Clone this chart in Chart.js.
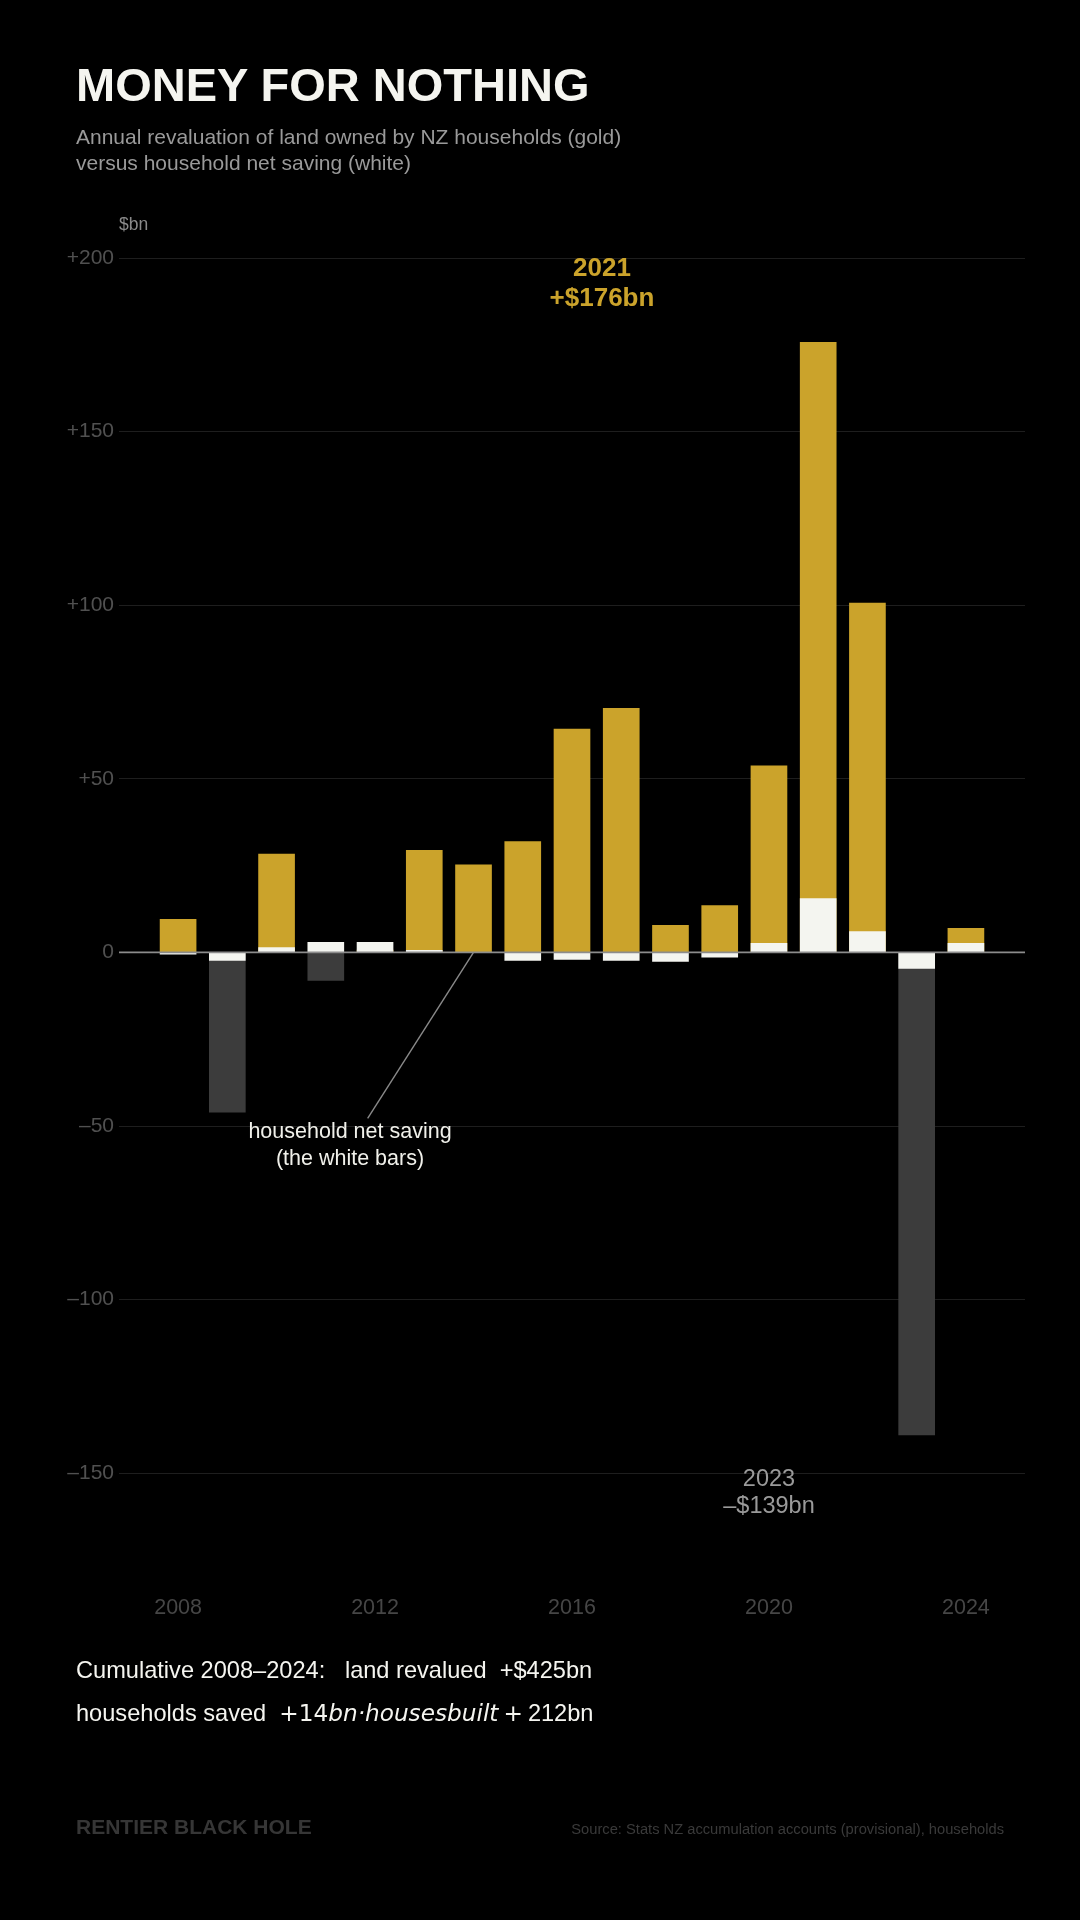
<!DOCTYPE html>
<html>
<head>
<meta charset="utf-8">
<script src="https://cdn.jsdelivr.net/npm/chart.js@4/dist/chart.umd.min.js"></script>
<style>
  html, body { margin: 0; padding: 0; background: #000; }
  #page { position: relative; width: 1080px; height: 1920px; background: #000; overflow: hidden;
          font-family: 'Liberation Sans', Arial, sans-serif; }
  #chart { position: absolute; left: 0; top: 0; }
  .txt { position: absolute; white-space: nowrap; }
  .title { left: 76px; top: 61px; font-size: 47px; line-height: 47px; font-weight: bold; color: #f5f5f0; }
  .subtitle { left: 76px; top: 124px; font-size: 21px; line-height: 26px; color: #9a9a9a; }
  .unit { left: 119px; top: 214px; font-size: 17.5px; line-height: 20px; color: #8a8a8a; }
  .note-peak { left: 502px; width: 200px; top: 252px; text-align: center; font-size: 26px; line-height: 30px;
               font-weight: bold; color: #cba32b; }
  .note-low { left: 669px; width: 200px; top: 1465px; text-align: center; font-size: 23.5px; line-height: 27px; color: #9a9a9a; }
  .note-saving { left: 200px; width: 300px; top: 1118px; text-align: center; font-size: 21.5px; line-height: 27px; color: #f0f0ea; }
  .cum { left: 76px; font-size: 23.6px; line-height: 26px; color: #f5f5f0; }
  .math { font-family: 'DejaVu Sans', sans-serif; font-size: 23.2px; }
  .math i { font-style: italic; }
  .math .op { margin: 0 5px 0 5px; }
  .brand { left: 76px; top: 1815px; font-size: 21px; line-height: 24px; font-weight: bold; color: #363636; }
  .source { right: 76px; top: 1819px; font-size: 14.7px; line-height: 20px; color: #3a3a3a; }
</style>
</head>
<body>
<div id="page">
  <canvas id="chart" width="1080" height="1920"></canvas>

  <div class="txt title">MONEY FOR NOTHING</div>
  <div class="txt subtitle">Annual revaluation of land owned by NZ households (gold)<br>versus household net saving (white)</div>
  <div class="txt unit">$bn</div>

  <div class="txt note-peak">2021<br>+$176bn</div>
  <div class="txt note-low">2023<br>–$139bn</div>
  <div class="txt note-saving">household net saving<br>(the white bars)</div>

  <div class="txt cum" style="top:1657px">Cumulative 2008–2024:&nbsp;&nbsp; land revalued&nbsp; +$425bn</div>
  <div class="txt cum" style="top:1700px">households saved&nbsp; <span class="math">+14<i>bn·housesbuilt</i><span class="op">+</span></span>212bn</div>

  <div class="txt brand">RENTIER BLACK HOLE</div>
  <div class="txt source">Source: Stats NZ accumulation accounts (provisional), households</div>
</div>

<script>
// annual values, $bn
const years = [2008, 2009, 2010, 2011, 2012, 2013, 2014, 2015, 2016, 2017, 2018, 2019, 2020, 2021, 2022, 2023, 2024];
const landRevaluation = [9.5, -46, 28.3, -8.1, 0.7, 29.4, 25.2, 31.9, 64.3, 70.3, 7.8, 13.5, 53.7, 175.7, 100.6, -139, 6.9];
const householdSaving = [-0.5, -2.3, 1.4, 2.9, 2.9, 0.6, 0, -2.3, -2.0, -2.3, -2.6, -1.4, 2.6, 15.5, 6.0, -4.6, 2.6];

const yTicks = [-150, -100, -50, 0, 50, 100, 150, 200];
const xTicks = [2008, 2012, 2016, 2020, 2024];

// leader line for the "household net saving" note (data coords)
const leaderFrom = { x: 2014, y: 0 };
const leaderTo = { x: 2011.85, y: -47.8 };

const GOLD = '#cba32b';
const WHITE = '#f4f5f0';
const DARK = '#3c3c3c';

Chart.defaults.font.family = "'Liberation Sans', Arial, sans-serif";

function fmtTick(v) {
    if (v > 0) return '+' + v;
    if (v < 0) return '–' + Math.abs(v);
    return '0';
}

const overlayPlugin = {
    id: 'overlay',
    afterDatasetsDraw(chart) {
        const { ctx, chartArea, scales } = chart;
        const x = scales.x, y = scales.y;
        const y0 = y.getPixelForValue(0);
        ctx.save();
        // zero line over the bars
        ctx.strokeStyle = '#8c8c8c';
        ctx.lineWidth = 1.6;
        ctx.beginPath();
        ctx.moveTo(chartArea.left, y0);
        ctx.lineTo(chartArea.right, y0);
        ctx.stroke();
        // leader line
        ctx.strokeStyle = '#8a8a8a';
        ctx.lineWidth = 1.4;
        ctx.beginPath();
        ctx.moveTo(x.getPixelForValue(leaderFrom.x), y.getPixelForValue(leaderFrom.y));
        ctx.lineTo(x.getPixelForValue(leaderTo.x), y.getPixelForValue(leaderTo.y));
        ctx.stroke();
        ctx.restore();
    }
};

new Chart(document.getElementById('chart').getContext('2d'), {
    type: 'bar',
    data: {
        datasets: [
            {
                label: 'Household net saving',
                data: years.map((yr, i) => ({ x: yr, y: householdSaving[i] })),
                backgroundColor: WHITE,
                grouped: false,
                barThickness: 36,
                order: 0
            },
            {
                label: 'Land revaluation',
                data: years.map((yr, i) => ({ x: yr, y: landRevaluation[i] })),
                backgroundColor: landRevaluation.map(v => v >= 0 ? GOLD : DARK),
                grouped: false,
                barThickness: 36,
                order: 1
            }
        ]
    },
    options: {
        responsive: false,
        devicePixelRatio: 1,
        animation: false,
        layout: { padding: { top: 258, left: 0, right: 55, bottom: 300 } },
        plugins: { legend: { display: false }, tooltip: { enabled: false } },
        scales: {
            x: {
                type: 'linear',
                min: 2006.8,
                max: 2025.2,
                offset: false,
                grid: { display: false, drawTicks: false },
                border: { display: false },
                afterBuildTicks: s => { s.ticks = xTicks.map(v => ({ value: v })); },
                afterFit: s => { s.height = 60; },
                ticks: {
                    padding: 35,
                    color: '#464646',
                    font: { size: 21.5 },
                    callback: v => String(v)
                }
            },
            y: {
                min: -175,
                max: 200,
                grid: { color: '#1e1e1e', lineWidth: 1, drawTicks: false },
                border: { display: false },
                afterBuildTicks: s => { s.ticks = yTicks.map(v => ({ value: v })); },
                afterFit: s => { s.width = 119; },
                ticks: {
                    padding: 5,
                    color: '#505050',
                    font: { size: 21 },
                    callback: v => fmtTick(v)
                }
            }
        }
    },
    plugins: [overlayPlugin]
});
</script>
</body>
</html>
